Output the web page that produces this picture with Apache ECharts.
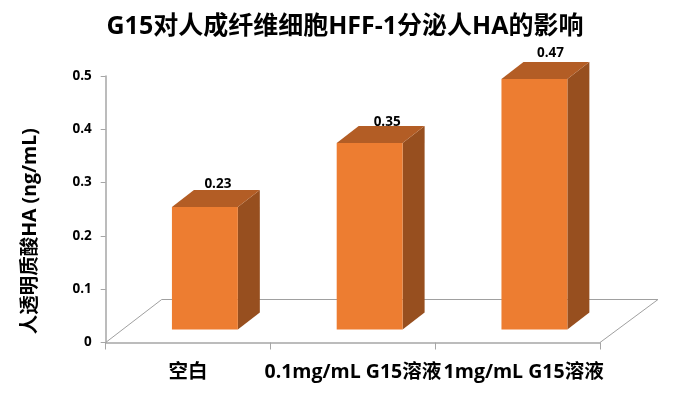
<!DOCTYPE html>
<html><head><meta charset="utf-8">
<style>html,body{margin:0;padding:0;background:#fff}#c{width:676px;height:410px}</style>
<script src="https://cdn.jsdelivr.net/npm/echarts@6/dist/echarts.min.js"></script>
</head><body><div id="c"></div>
<script>
const chartTitle = 'G15对人成纤维细胞HFF-1分泌人HA的影响';
const yAxisName = '人透明质酸HA (ng/mL)';
const categories = ['空白', '0.1mg/mL G15溶液', '1mg/mL G15溶液'];
const values = [0.23, 0.35, 0.47];
const yTicks = { min: 0, max: 0.5, step: 0.1 };

const FONT = '"Open Sans","Noto Sans CJK SC",sans-serif';
const DX = 22, DY = 17;              // bar depth projection
const FX = 56, FY = 43;              // floor depth projection
const PX = 16.8, PY = 12.9;          // bar offset on the floor
const LABEL_LIFT = [6, 4, 9];
const LABEL_SHIFT = [2, 6.5, 5];

const chart = echarts.init(document.getElementById('c'), null, {renderer: 'canvas'});
chart.setOption({
  animation: false,
  backgroundColor: '#fff',
  title: {
    text: chartTitle, left: 340, top: 9, textAlign: 'center',
    textStyle: {fontFamily: FONT, fontSize: 25, fontWeight: 'bold', color: '#000'}
  },
  grid: {left: 105.7, right: 76, top: 76, bottom: 67.5, containLabel: false},
  xAxis: {
    type: 'category', data: categories,
    axisLine: {lineStyle: {color: '#a6a6a6', width: 1.5}},
    axisTick: {show: true, length: 7, lineStyle: {color: '#a6a6a6', width: 1}},
    axisLabel: {
      interval: 0, margin: 20, color: '#000', fontFamily: FONT, fontSize: 19.5, fontWeight: 'bold',
      hideOverlap: false,
      formatter: (v, i) => i === 2 ? '{c|' + v + '}' : v,
      rich: {c: {padding: [0, 0, 0, 12], color: '#000', fontFamily: FONT, fontSize: 19.5, fontWeight: 'bold'}}
    }
  },
  yAxis: {
    type: 'value', min: yTicks.min, max: yTicks.max, interval: yTicks.step,
    name: yAxisName, nameLocation: 'middle', nameGap: 66, nameRotate: 90,
    nameTextStyle: {color: '#000', fontFamily: FONT, fontSize: 19.5, fontWeight: 'bold', padding: [0, 44, 0, 0]},
    axisLine: {show: true, lineStyle: {color: '#a6a6a6', width: 1.5}},
    axisTick: {show: true, length: 5, lineStyle: {color: '#a6a6a6', width: 1}},
    splitLine: {show: false},
    axisLabel: {margin: 14, color: '#000', fontFamily: FONT, fontSize: 13.5, fontWeight: 'bold',
      formatter: v => v === 0 ? '0' : v.toFixed(1)}
  },
  series: [
    {
      type: 'custom', coordinateSystem: 'cartesian2d', silent: true, z: 1, clip: false,
      data: [[0, 0]],
      renderItem(params, api) {
        const o = api.coord([0, 0]);
        const band = api.size([1, 0])[0];
        const left = o[0] - band / 2, right = left + band * categories.length, y = o[1];
        return {
          type: 'polyline',
          shape: {points: [[left, y], [left + FX, y - FY], [right + FX + 2, y - FY], [right, y]]},
          style: {fill: null, stroke: '#a0a0a0', lineWidth: 1}
        };
      }
    },
    {
      type: 'custom', coordinateSystem: 'cartesian2d', silent: true, z: 2, clip: false,
      data: values.map((v, i) => [i, v]),
      encode: {x: 0, y: 1},
      renderItem(params, api) {
        const i = api.value(0), v = api.value(1);
        const top = api.coord([i, v]), base = api.coord([i, 0]);
        const w = api.size([1, 0])[0] * 0.4;
        const x0 = top[0] - w / 2 + PX, x1 = x0 + w;
        const yt = top[1] - PY, yb = base[1] - PY;
        return {
          type: 'group',
          children: [
            {type: 'polygon', shape: {points: [[x1, yt], [x1 + DX, yt - DY], [x1 + DX, yb - DY], [x1, yb]]},
              style: {fill: '#974f1f'}},
            {type: 'polygon', shape: {points: [[x0, yt], [x0 + DX, yt - DY], [x1 + DX, yt - DY], [x1, yt]]},
              style: {fill: '#b35d25'}},
            {type: 'rect', shape: {x: x0, y: yt, width: w, height: yb - yt},
              style: {fill: '#ed7d31'}},
            {type: 'text', x: (x0 + x1) / 2 + DX / 2 + LABEL_SHIFT[i], y: yt - DY - LABEL_LIFT[i],
              style: {text: v.toFixed(2), fill: '#000', font: 'bold 13.5px ' + FONT, align: 'center', verticalAlign: 'middle'}, z2: 10}
          ]
        };
      }
    }
  ]
});
</script></body></html>
